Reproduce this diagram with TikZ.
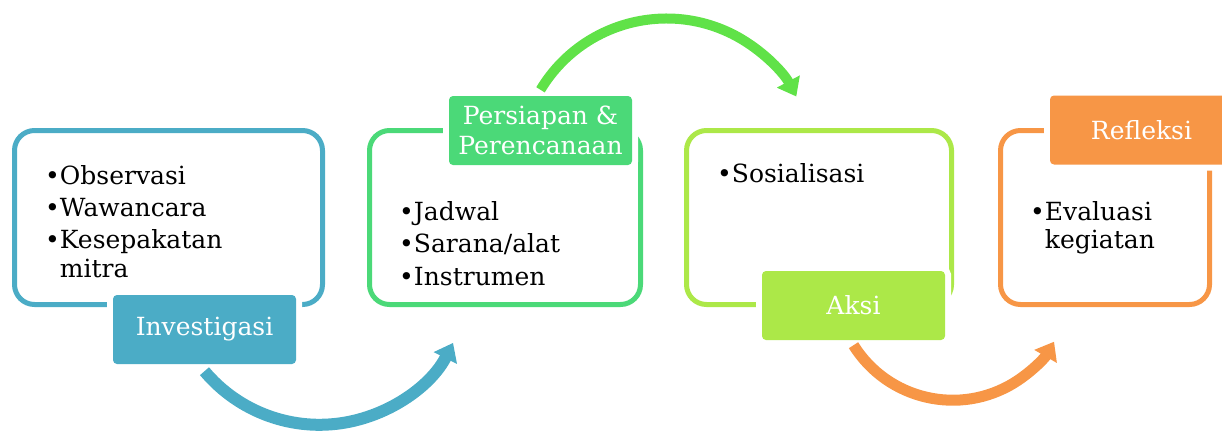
\documentclass[tikz,border=0pt]{standalone}
\usepackage{fontspec}
\setmainfont{DejaVu Serif}
\usetikzlibrary{arrows.meta}
\definecolor{invblue}{HTML}{4BACC6}
\definecolor{persgreen}{HTML}{4BD978}
\definecolor{arcgreen}{HTML}{60E248}
\definecolor{aksigreen}{HTML}{ACE848}
\definecolor{reflorange}{HTML}{F79646}

\begin{document}
\begin{tikzpicture}[x=1pt, y=-1pt,
	outbox/.style={draw=#1, line width=5pt, rounded corners=20pt, minimum height=174pt, inner sep=0pt},
	stage/.style={fill=#1, text=white, rounded corners=4pt, minimum width=183pt, minimum height=69pt,
		inner sep=2pt, align=center, font=\fontsize{25}{30}\selectfont,
		preaction={draw=white, line width=12pt}},
	items/.style={anchor=base west, align=left, inner sep=0pt, font=\fontsize{25}{32}\selectfont},
	bend/.style={draw=#1, line width=11pt, -{Triangle[width=25pt, length=17pt]}}]
				\useasboundingbox (0, 0) rectangle (1222, 432);
				
				% Outline boxes
				\node[outbox=invblue, minimum width=308pt] (box1) at (168.5, 217.5) {};
				\node[outbox=persgreen, minimum width=271pt] (box2) at (505, 217.5) {};
				\node[outbox=aksigreen, minimum width=265pt] (box3) at (819, 217.5) {};
				\node[outbox=reflorange, minimum width=209pt] (box4) at (1105, 217.5) {};
				
				% Bullet lists (placed at the baseline of the last line)
				\node[items] (list1) at (45, 277) {•Observasi\\•Wawancara\\•Kesepakatan\\[-3pt]\phantom{•}mitra};
				\node[items, font=\fontsize{25}{32.5}\selectfont] (list2) at (399, 285) {•Jadwal\\•Sarana/alat\\•Instrumen};
				\node[items] (list3) at (717, 182) {•Sosialisasi};
				\node[items] (list4) at (1030, 248) {•Evaluasi\\[-4pt]\phantom{•}kegiatan};
				
				% Stage labels
				\node[stage=invblue] (inv) at (204.5, 329.5) {Investigasi};
				\node[stage=persgreen] (pers) at (540.5, 130.5) {Persiapan \&\\Perencanaan};
				\node[stage=aksigreen] (aksi) at (853.5, 305.5) {Aksi};
				\node[stage=reflorange] (refl) at (1141.5, 130) {Refleksi};
				
				% Bent arrows
				\draw[bend=invblue, line width=12pt] ([yshift=-7pt]inv.south) arc[start angle=220, end angle=333, radius=150pt];
				\draw[bend=arcgreen, line width=10pt] ([yshift=6pt]pers.north) arc[start angle=149, end angle=28, radius=147pt];
				\draw[bend=reflorange] ([yshift=-5pt]aksi.south) arc[start angle=212, end angle=330, radius=117pt];
\end{tikzpicture}
\end{document}
